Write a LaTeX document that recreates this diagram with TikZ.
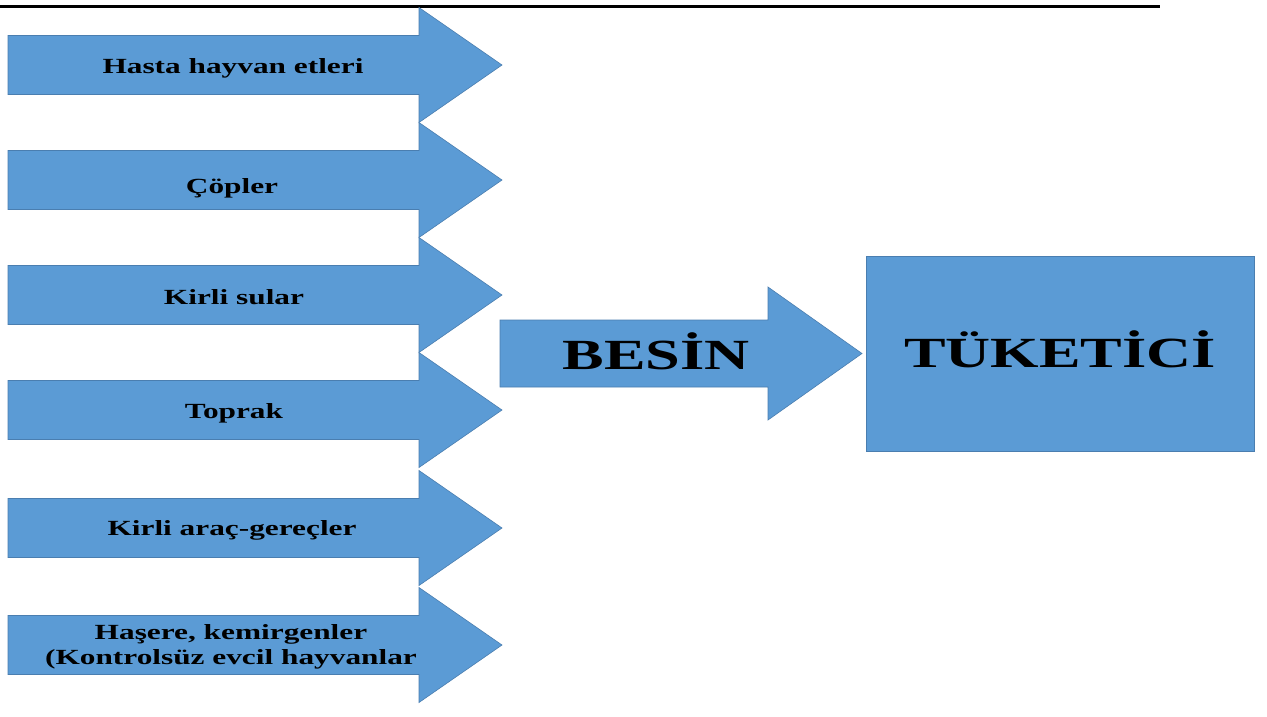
\documentclass[tikz,border=0pt]{standalone}
\usepackage{fontspec}
\setmainfont{Liberation Serif}
\definecolor{fillblue}{HTML}{5B9BD5}
\definecolor{edgeblue}{HTML}{4A7EB0}
\newcommand\stretchtxt[1]{\scalebox{1.45}[1]{#1}}
\begin{document}
\begin{tikzpicture}[x=1pt,y=-1pt,
  blockarrow/.style={fill=fillblue, draw=edgeblue, line width=0.6pt, line join=miter},
  smalltext/.style={font=\bfseries\fontsize{21.6}{25}\selectfont, anchor=base, inner sep=0pt, align=center},
  bigtext/.style={font=\bfseries\fontsize{43}{50}\selectfont, anchor=base, inner sep=0pt}]
\useasboundingbox (0,0) rectangle (1267,716);
\fill[white] (0,0) rectangle (1267,716);
\draw[line width=2.3pt] (0,6.5) -- (1160,6.5);
\foreach \yc in {65,180,295,410,528,645} {
  \draw[blockarrow] (8,\yc-29.5) -- (419,\yc-29.5) -- (419,\yc-57.5) -- (502,\yc)
     -- (419,\yc+57.5) -- (419,\yc+29.5) -- (8,\yc+29.5) -- cycle;
}
\draw[blockarrow] (500,320) -- (768,320) -- (768,287) -- (862,353.5) -- (768,420)
   -- (768,387) -- (500,387) -- cycle;
\node[draw=edgeblue, line width=0.6pt, fill=fillblue, minimum width=388pt, minimum height=195pt,
  inner sep=0pt, font=\bfseries\fontsize{43}{50}\selectfont, text height=28.5pt, text depth=0pt]
  (tuk) at (1060,353.5) {\stretchtxt{TÜKETİCİ}};
\node[bigtext] (besin) at (656,369) {\stretchtxt{BESİN}};
\node[smalltext] (t1) at (233,73) {\stretchtxt{Hasta hayvan etleri}};
\node[smalltext] (t2) at (232,193) {\stretchtxt{Çöpler}};
\node[smalltext] (t3) at (234,304) {\stretchtxt{Kirli sular}};
\node[smalltext] (t4) at (234,418) {\stretchtxt{Toprak}};
\node[smalltext] (t5) at (232,535) {\stretchtxt{Kirli araç-gereçler}};
\node[smalltext] (t6) at (231,664) {\stretchtxt{Haşere, kemirgenler}\\\stretchtxt{(Kontrolsüz evcil hayvanlar}};
\end{tikzpicture}
\end{document}
